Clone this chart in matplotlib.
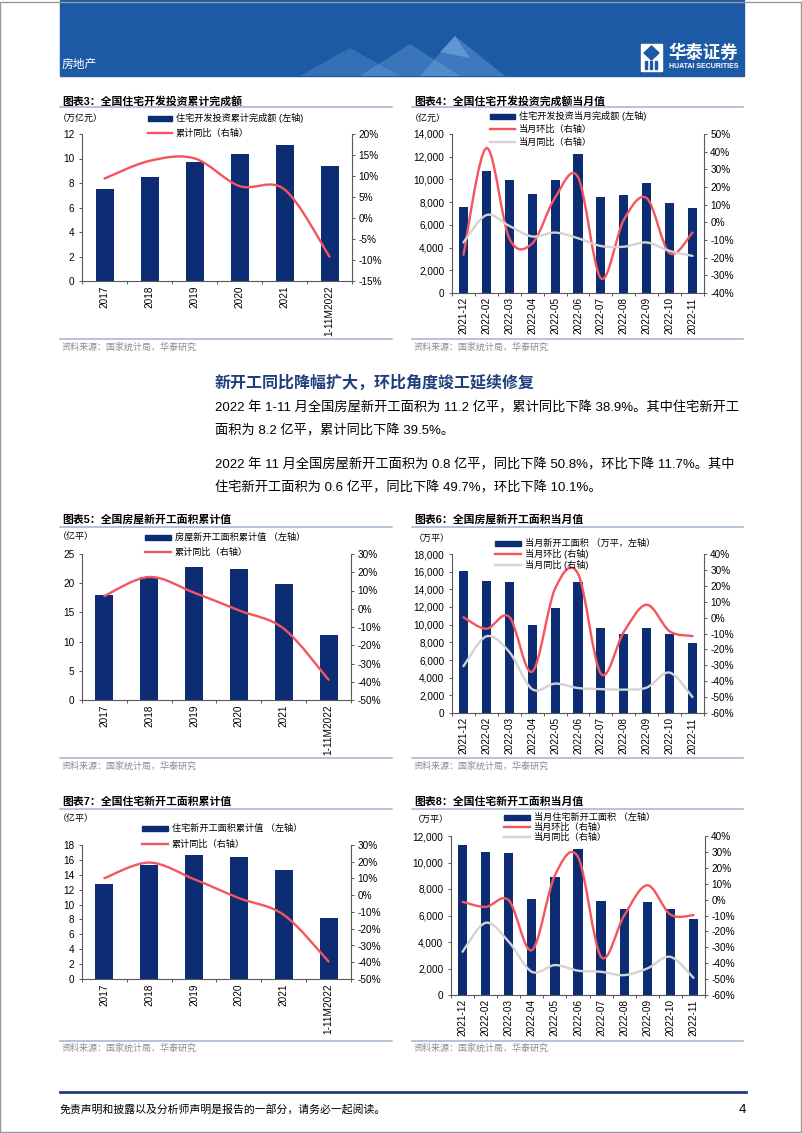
import numpy as np
import matplotlib
matplotlib.use('Agg')
import matplotlib.pyplot as plt
from matplotlib.path import Path
from matplotlib.patches import PathPatch, Rectangle, Polygon
from matplotlib.lines import Line2D
from matplotlib.ticker import FuncFormatter, MultipleLocator

plt.rcParams['font.family'] = ['Liberation Sans', 'Noto Sans CJK SC']

# ---- data ----
years = ['2017', '2018', '2019', '2020', '2021', '1-11M2022']
months = ['2021-12', '2022-02', '2022-03', '2022-04', '2022-05', '2022-06',
          '2022-07', '2022-08', '2022-09', '2022-10', '2022-11']

# 图表3 住宅开发投资累计完成额 (万亿元) / 累计同比 (%)
inv_cum = [7.5, 8.5, 9.7, 10.4, 11.1, 9.4]
inv_cum_yoy = [9.4, 13.6, 14.2, 7.6, 6.8, -9.2]

# 图表4 住宅开发投资当月完成额 (亿元) / 环比 / 同比 (%)
inv_month = [7600, 10750, 9970, 8740, 9970, 12260, 8410, 8620, 9650, 7910, 7470]
inv_month_mom = [-18.4, 42.0, -9.0, -12.0, 14.0, 25.6, -31.7, 1.4, 13.7, -17.5, -5.8]
inv_month_yoy = [-11.4, 4.1, -2.0, -8.0, -5.8, -9.0, -13.4, -13.8, -11.4, -16.2, -19.0]

# 图表5 房屋新开工面积累计值 (亿平) / 累计同比 (%)
new_cum = [17.9, 21.0, 22.7, 22.4, 19.9, 11.2]
new_cum_yoy = [7.0, 17.4, 8.8, -0.9, -10.9, -38.9]

# 图表6 当月新开工面积 (万平) / 环比 / 同比 (%)
new_month = [16040, 14940, 14870, 9920, 11890, 14790, 9620, 8980, 9660, 8940, 7890]
new_month_mom = [0.2, -7.0, 0.5, -34.0, 18.2, 27.6, -35.3, -9.0, 8.1, -8.6, -11.6]
new_month_yoy = [-30.6, -11.8, -21.6, -45.0, -41.5, -44.3, -45.0, -45.3, -44.0, -34.6, -50.0]

# 图表7 住宅新开工面积累计值 (亿平) / 累计同比 (%)
res_cum = [12.8, 15.3, 16.7, 16.4, 14.6, 8.2]
res_cum_yoy = [10.2, 19.5, 9.6, -1.7, -11.7, -39.5]

# 图表8 当月住宅新开工面积 (万平) / 环比 / 同比 (%)
res_month = [11350, 10800, 10700, 7280, 8890, 11000, 7100, 6480, 7050, 6480, 5770]
res_month_mom = [-1.4, -4.6, -0.4, -31.8, 15.3, 26.8, -36.0, -10.0, 9.0, -9.4, -9.8]
res_month_yoy = [-32.8, -14.6, -26.5, -45.4, -41.2, -44.7, -45.4, -47.5, -43.3, -36.0, -49.2]

NAVY = '#0c2d74'
RED = '#f4555c'
GREY = '#d3d3d3'
SPINE = '#595959'
RULE = '#9fb3cf'
SRC = '#8c8c8c'

W, H = 802, 1133
fig = plt.figure(figsize=(8.02, 11.33), dpi=100)


def fx(x):
    return x / W


def fy(y):
    return 1 - y / H


def smooth_path(xs, ys):
    # excel-like smoothed line, drawn as cubic bezier through the points
    pts = np.column_stack([xs, ys]).astype(float)
    n = len(pts)
    verts = [pts[0]]
    codes = [Path.MOVETO]
    for i in range(n - 1):
        p0 = pts[max(i - 1, 0)]
        p1 = pts[i]
        p2 = pts[i + 1]
        p3 = pts[min(i + 2, n - 1)]
        verts += [p1 + (p2 - p0) / 6, p2 - (p3 - p1) / 6, p2]
        codes += [Path.CURVE4] * 3
    return Path(verts, codes)


def draw_chart(box, cats, bars, lines, ylim_l, step_l, ylim_r, step_r, comma=False):
    left, top, right, bottom = box
    ax = fig.add_axes([fx(left), fy(bottom), (right - left) / W, (bottom - top) / H])
    x = np.arange(len(cats))
    ax.bar(x, bars, width=0.4, color=NAVY, zorder=2)
    ax.set_xlim(-0.5, len(cats) - 0.5)
    ax.set_ylim(*ylim_l)
    ax.yaxis.set_major_locator(MultipleLocator(step_l))
    if comma:
        ax.yaxis.set_major_formatter(FuncFormatter(lambda v, p: f'{v:,.0f}'))
    else:
        ax.yaxis.set_major_formatter(FuncFormatter(lambda v, p: f'{v:.0f}'))
    ax.set_xticks(x)
    ax.set_xticklabels(cats, rotation=90, fontsize=7.2)
    ax.set_xticks(np.arange(len(cats) + 1) - 0.5, minor=True)
    ax.tick_params(axis='x', which='major', length=0, pad=3)
    ax.tick_params(axis='x', which='minor', length=2.5, width=0.7, color=SPINE)
    ax.tick_params(axis='y', length=2.5, width=0.7, color=SPINE, labelsize=7.2, pad=3)
    for s in ['top', 'right']:
        ax.spines[s].set_visible(False)
    for s in ['left', 'bottom']:
        ax.spines[s].set_color(SPINE)
        ax.spines[s].set_linewidth(0.8)
    ax.patch.set_alpha(0)

    ax2 = ax.twinx()
    ax2.set_ylim(*ylim_r)
    ax2.yaxis.set_major_locator(MultipleLocator(step_r))
    ax2.yaxis.set_major_formatter(FuncFormatter(lambda v, p: f'{v:.0f}%'))
    ax2.tick_params(axis='y', length=2.5, width=0.7, color=SPINE, labelsize=7.2, pad=2)
    for s in ['top', 'left', 'bottom']:
        ax2.spines[s].set_visible(False)
    ax2.spines['right'].set_color(SPINE)
    ax2.spines['right'].set_linewidth(0.8)
    for vals, color in lines:
        ax2.add_patch(PathPatch(smooth_path(x, vals), fill=False, edgecolor=color,
                                lw=1.7, capstyle='round', joinstyle='round'))
    return ax, ax2


def frame(x0, x1, y_title, y_rule, y_src_rule, y_src, title, unit, unit_xy):
    fig.text(fx(x0 + 2), fy(y_title), title, fontsize=7.8, fontweight='bold', va='center')
    fig.add_artist(Line2D([fx(x0), fx(x1)], [fy(y_rule)] * 2, color=RULE, lw=1.1))
    fig.add_artist(Line2D([fx(x0), fx(x1)], [fy(y_src_rule)] * 2, color=RULE, lw=1.1))
    fig.text(fx(x0 + 2), fy(y_src), '资料来源：国家统计局，华泰研究', fontsize=6.5,
             color=SRC, va='center')
    fig.text(fx(unit_xy[0]), fy(unit_xy[1]), unit, fontsize=6.5, va='center')


def leg_bar(x0, x1, y, label):
    fig.add_artist(Rectangle((fx(x0), fy(y + 2.5)), (x1 - x0) / W, 5 / H,
                             color=NAVY, transform=fig.transFigure))
    fig.text(fx(x1 + 4), fy(y), label, fontsize=6.6, va='center')


def leg_line(x0, x1, y, label, color):
    fig.add_artist(Line2D([fx(x0), fx(x1)], [fy(y)] * 2, color=color, lw=1.7))
    fig.text(fx(x1 + 4), fy(y), label, fontsize=6.6, va='center')


# ---- page decoration ----
fig.add_artist(Rectangle((fx(60), fy(76)), 684 / W, 76 / H, color='#1d5aa5',
                         transform=fig.transFigure, zorder=0))
for pts, a in [([(300, 76), (350, 48), (400, 76)], 0.25),
               ([(360, 76), (410, 44), (460, 76)], 0.30),
               ([(420, 76), (455, 36), (505, 76)], 0.35),
               ([(440, 52), (455, 36), (470, 58)], 0.5)]:
    fig.add_artist(Polygon([(fx(p), fy(q)) for p, q in pts], closed=True,
                           color='#7fb4ea', alpha=a, lw=0, transform=fig.transFigure))
fig.text(fx(62), fy(65), '房地产', fontsize=8.5, color='white', va='center')
fig.add_artist(Rectangle((fx(641), fy(71)), 21 / W, 27 / H, color='white',
                         transform=fig.transFigure))
fig.add_artist(Polygon([(fx(651.5), fy(46)), (fx(659), fy(53)), (fx(651.5), fy(60)),
                        (fx(644), fy(53))], closed=True, color='#1d5aa5',
                       transform=fig.transFigure))
for bx in [645, 650, 655]:
    fig.add_artist(Rectangle((fx(bx), fy(69)), 2 / W, 8 / H, color='#1d5aa5',
                             transform=fig.transFigure))
fig.text(fx(668), fy(52), '华泰证券', fontsize=12.5, color='white', va='center',
         fontweight='bold')
fig.text(fx(669), fy(66), 'HUATAI SECURITIES', fontsize=5, color='white', va='center',
         fontweight='bold')

# ---- section text ----
fig.text(fx(215), fy(383), '新开工同比降幅扩大，环比角度竣工延续修复', fontsize=11.5,
         color='#1f3f7c', fontweight='bold', va='center')
body = [(408, '2022 年 1-11 月全国房屋新开工面积为 11.2 亿平，累计同比下降 38.9%。其中住宅新开工'),
        (431, '面积为 8.2 亿平，累计同比下降 39.5%。'),
        (465, '2022 年 11 月全国房屋新开工面积为 0.8 亿平，同比下降 50.8%，环比下降 11.7%。其中'),
        (488, '住宅新开工面积为 0.6 亿平，同比下降 49.7%，环比下降 10.1%。')]
for y, s in body:
    fig.text(fx(215), fy(y), s, fontsize=9.5, va='center')

# ---- charts ----
frame(60, 392, 101, 107, 339, 347, '图表3：全国住宅开发投资累计完成额', '（万亿元）', (58, 118))
draw_chart((82, 134, 352, 281), years, inv_cum, [(inv_cum_yoy, RED)],
           (0, 12), 2, (-15, 20), 5)
leg_bar(148, 172, 118, '住宅开发投资累计完成额 (左轴)')
leg_line(148, 172, 133, '累计同比（右轴）', RED)

frame(412, 743, 101, 107, 339, 347, '图表4：全国住宅开发投资完成额当月值', '（亿元）', (410, 118))
draw_chart((452, 134, 704, 293), months, inv_month,
           [(inv_month_mom, RED), (inv_month_yoy, GREY)],
           (0, 14000), 2000, (-40, 50), 10, comma=True)
leg_bar(490, 515, 116, '住宅开发投资当月完成额 (左轴)')
leg_line(490, 515, 129, '当月环比（右轴）', RED)
leg_line(490, 515, 142, '当月同比（右轴）', GREY)

frame(60, 392, 520, 527, 758, 766, '图表5：全国房屋新开工面积累计值', '（亿平）', (58, 537))
draw_chart((82, 554, 351, 700), years, new_cum, [(new_cum_yoy, RED)],
           (0, 25), 5, (-50, 30), 10)
leg_bar(145, 171, 537, '房屋新开工面积累计值 （左轴）')
leg_line(145, 171, 552, '累计同比（右轴）', RED)

frame(412, 743, 520, 527, 758, 766, '图表6：全国房屋新开工面积当月值', '（万平）', (414, 538))
draw_chart((452, 554, 704, 713), months, new_month,
           [(new_month_mom, RED), (new_month_yoy, GREY)],
           (0, 18000), 2000, (-60, 40), 10, comma=True)
leg_bar(495, 521, 543, '当月新开工面积 （万平，左轴）')
leg_line(495, 521, 554, '当月环比 (右轴)', RED)
leg_line(495, 521, 565, '当月同比 (右轴)', GREY)

frame(60, 392, 802, 809, 1041, 1048, '图表7：全国住宅新开工面积累计值', '（亿平）', (58, 819))
draw_chart((82, 845, 351, 979), years, res_cum, [(res_cum_yoy, RED)],
           (0, 18), 2, (-50, 30), 10)
leg_bar(142, 168, 828, '住宅新开工面积累计值 （左轴）')
leg_line(142, 168, 844, '累计同比（右轴）', RED)

frame(412, 743, 802, 809, 1041, 1048, '图表8：全国住宅新开工面积当月值', '（万平）', (413, 819))
draw_chart((451, 836, 705, 995), months, res_month,
           [(res_month_mom, RED), (res_month_yoy, GREY)],
           (0, 12000), 2000, (-60, 40), 10, comma=True)
leg_bar(504, 530, 817, '当月住宅新开工面积 （左轴）')
leg_line(504, 530, 827, '当月环比（右轴）', RED)
leg_line(504, 530, 837, '当月同比（右轴）', GREY)

# ---- footer ----
fig.add_artist(Line2D([fx(60), fx(746)], [fy(1092)] * 2, color='#1f3f7c', lw=2))
fig.text(fx(60), fy(1110), '免责声明和披露以及分析师声明是报告的一部分，请务必一起阅读。',
         fontsize=7.8, va='center')
fig.text(fx(746), fy(1110), '4', fontsize=9.5, va='center', ha='right')
fig.add_artist(Rectangle((0.0005, 0.0005), 0.998, 0.998, fill=False, ec='#9a9a9a', lw=1,
                         transform=fig.transFigure))

fig.savefig('out.png', dpi=100)
